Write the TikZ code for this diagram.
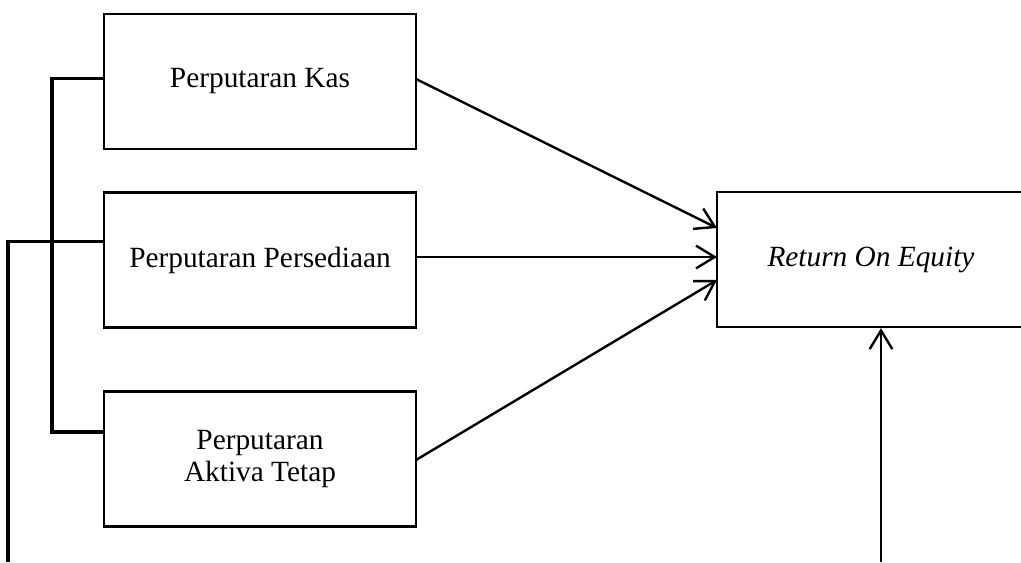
\documentclass[tikz,border=0pt]{standalone}
\usepackage{fontspec}
\setmainfont{Liberation Serif}
\usetikzlibrary{arrows.meta}
\begin{document}
\begin{tikzpicture}[x=0.75pt,y=-0.75pt,
  boxstyle/.style={draw,line width=1.7pt,rectangle,minimum width=312*0.75pt,minimum height=135*0.75pt,align=center,font=\fontsize{22}{24.5}\selectfont,inner sep=0pt},
  roestyle/.style={draw,line width=1.7pt,rectangle,minimum width=308*0.75pt,minimum height=135*0.75pt,font=\fontsize{22}{24}\selectfont\itshape,inner sep=0pt},
  linkstyle/.style={line width=2.3pt},
  arrowstyle/.style={line width=1.8pt,-{Straight Barb[length=14pt,width=17pt,line width=1.8pt]}}]
\useasboundingbox (0,0) rectangle (1021,562);
\clip (0,0) rectangle (1021,562);
\node[boxstyle] (kas) at (260,81.5) {Perputaran Kas};
\node[boxstyle] (pers) at (260,260) {Perputaran Persediaan};
\node[boxstyle] (akt) at (260,459) {Perputaran\\Aktiva Tetap};
\node[roestyle] (roe) at (871,259.5) {Return On Equity};
\coordinate (t1) at (717,228);
\coordinate (t2) at (717,257);
\coordinate (t3) at (717,280);
\coordinate (s1) at (416,79);
\coordinate (s3) at (416,460);
\coordinate (leftbot) at (8,562);
\coordinate (rightbot) at (881,562);
\draw[arrowstyle] (s1) -- (t1);
\draw[arrowstyle] (pers.east |- t2) -- (t2);
\draw[arrowstyle] (s3) -- (t3);
\draw[arrowstyle] (rightbot) -- (rightbot |- roe.south);
\draw[linkstyle] ([yshift=2.6pt]kas.west) -| (52,432) -- (akt.west |- 0,432);
\draw[linkstyle] ([yshift=14pt]pers.west) -| (leftbot);
\end{tikzpicture}
\end{document}
